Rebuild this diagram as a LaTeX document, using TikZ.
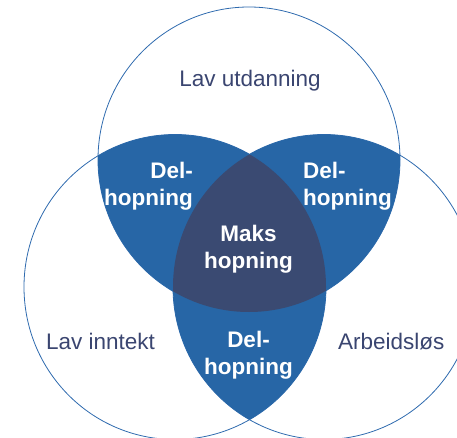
\documentclass[tikz,border=0pt]{standalone}
\usepackage{fontspec}
\setmainfont{Liberation Sans}
\definecolor{vblue}{RGB}{39,102,166}
\definecolor{vdark}{RGB}{58,74,114}
\definecolor{vtext}{RGB}{58,69,112}
\definecolor{vline}{RGB}{46,106,174}
\begin{document}
\begin{tikzpicture}[x=1pt,y=-1pt,
  ring/.style={draw=vline,line width=0.8pt},
  lab/.style={inner sep=0pt,text=vtext,font=\fontsize{22.5}{26.5}\selectfont},
  blab/.style={inner sep=0pt,text=white,font=\fontsize{22.5}{26.5}\selectfont\bfseries}]
\useasboundingbox (0,0) rectangle (457,438);
\coordinate (ct) at (249,159.5);
\coordinate (cl) at (175,287);
\coordinate (cr) at (324,287);
\def\rr{[x radius=151pt,y radius=152.5pt]}
\draw[ring] (ct) ellipse[x radius=151pt,y radius=152.5pt];
\draw[ring] (cl) ellipse[x radius=151pt,y radius=152.5pt];
\draw[ring] (cr) ellipse[x radius=151pt,y radius=152.5pt];
\begin{scope}
  \clip (ct) ellipse[x radius=151pt,y radius=152.5pt];
  \fill[vblue] (cl) ellipse[x radius=151pt,y radius=152.5pt];
  \fill[vblue] (cr) ellipse[x radius=151pt,y radius=152.5pt];
\end{scope}
\begin{scope}
  \clip (cl) ellipse[x radius=151pt,y radius=152.5pt];
  \fill[vblue] (cr) ellipse[x radius=151pt,y radius=152.5pt];
\end{scope}
\begin{scope}
  \clip (ct) ellipse[x radius=151pt,y radius=152.5pt];
  \clip (cl) ellipse[x radius=151pt,y radius=152.5pt];
  \fill[vdark] (cr) ellipse[x radius=151pt,y radius=152.5pt];
\end{scope}
\node[lab,anchor=base] (lu) at (250,87) {Lav utdanning};
\node[lab,anchor=base west] (li) at (46,349) {Lav inntekt};
\node[lab,anchor=base west] (ar) at (338,349) {Arbeidsløs};
\node[blab,align=right,anchor=north east] (d1) at (193,162) {Del-\\hopning};
\node[blab,align=left,anchor=north west] (d2) at (303,162) {Del-\\hopning};
\node[blab,align=center,anchor=north] (mx) at (248.5,225) {Maks\\hopning};
\node[blab,align=center,anchor=north] (d3) at (248.5,331) {Del-\\hopning};
\end{tikzpicture}
\end{document}
